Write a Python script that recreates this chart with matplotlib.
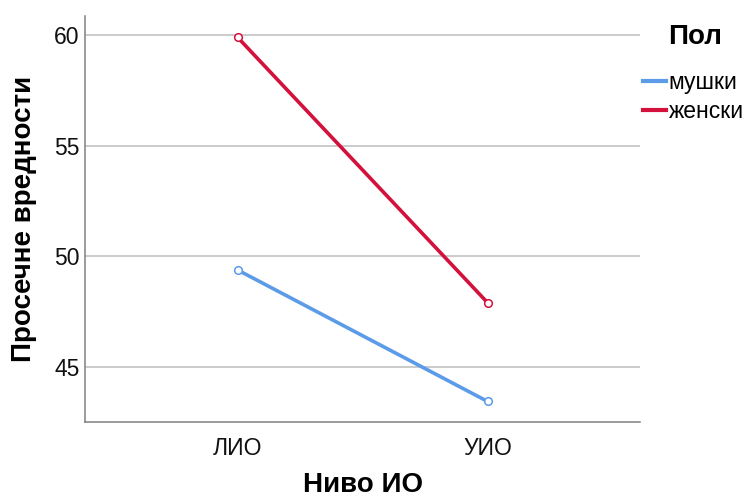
import matplotlib.pyplot as plt
from matplotlib.lines import Line2D

plt.rcParams['font.family'] = ['Liberation Sans', 'DejaVu Sans']

# данни
groups = ['ЛИО', 'УИО']
male = [49.39, 43.45]
female = [59.90, 47.91]
series_names = ['мушки', 'женски']
colors = ['#5b9be8', '#d3113c']

fig = plt.figure(figsize=(7.54, 4.98), dpi=100)
ax = fig.add_axes([0.1127, 0.1534, 0.7363, 0.8145])

x = list(range(len(groups)))
for vals, name, c in zip([male, female], series_names, colors):
    ax.plot(x, vals, color=c, linewidth=2.6, marker='o', markersize=5.5,
            markerfacecolor='white', markeredgecolor=c, markeredgewidth=1.1,
            solid_capstyle='butt')

ax.set_xlim(-0.61, 1.61)
ax.set_ylim(42.54, 60.86)
ax.set_yticks([45, 50, 55, 60])
ax.set_xticks(x)
ax.set_xticklabels(groups)
ax.tick_params(axis='both', length=0, labelsize=16.5, colors='#111111')
ax.tick_params(axis='x', pad=11)
ax.tick_params(axis='y', pad=4)
ax.grid(axis='y', color='#bdbdbd', linewidth=1.1)
ax.set_axisbelow(True)

for s in ['top', 'right']:
    ax.spines[s].set_visible(False)
for s in ['left', 'bottom']:
    ax.spines[s].set_color('#808080')
    ax.spines[s].set_linewidth(1.1)

ax.set_xlabel('Ниво ИО', fontsize=20, fontweight='bold', labelpad=9)
ax.set_ylabel('Просечне вредности', fontsize=20, fontweight='bold', labelpad=12)

# легенда: наслов посебно, ставке испод
fig.text(668 / 754, 1 - 37 / 498, 'Пол', fontsize=20, fontweight='bold',
         ha='left', va='center')
handles = [Line2D([0], [0], color=c, linewidth=3) for c in colors]
leg = ax.legend(handles, series_names, loc='upper left',
                bbox_to_anchor=(1.005, 0.864), frameon=False, borderpad=0,
                fontsize=16.5, handlelength=1.0, handletextpad=0.12,
                borderaxespad=0, labelspacing=0.25)

fig.savefig('out.png', dpi=100)
